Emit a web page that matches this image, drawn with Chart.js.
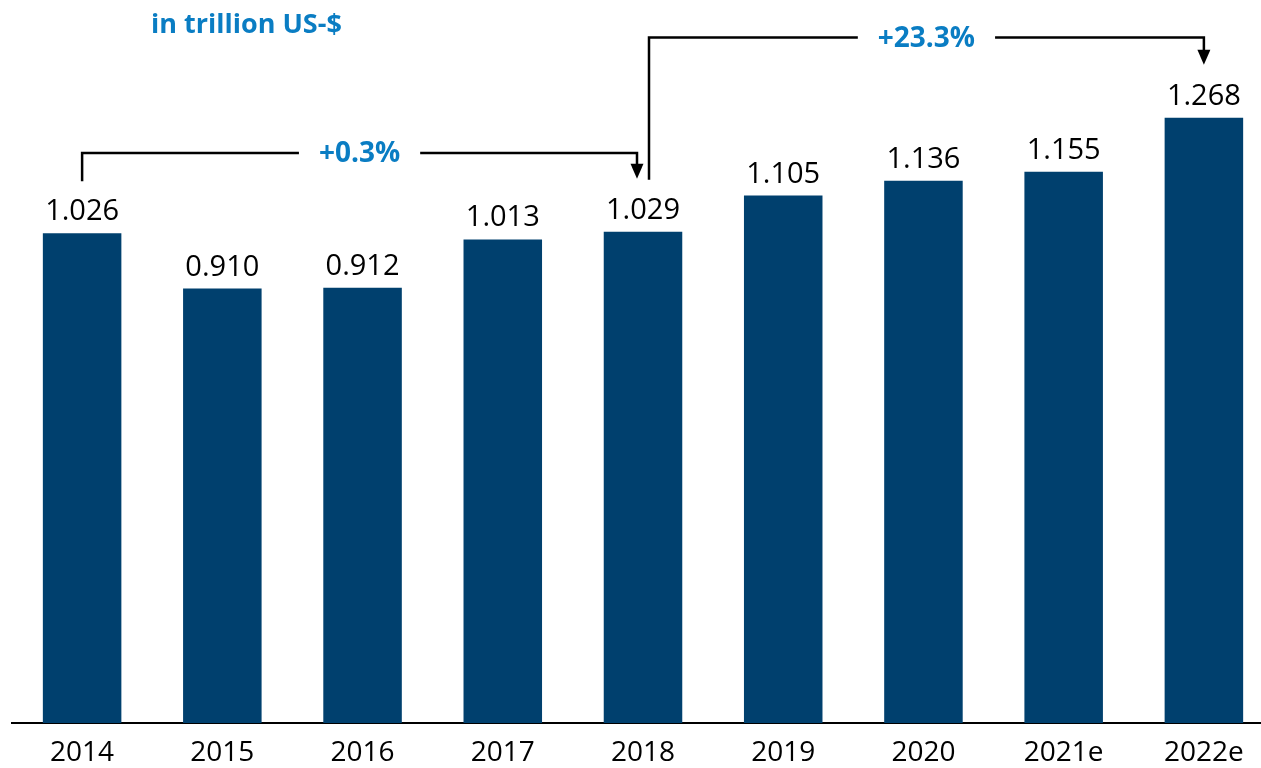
<!DOCTYPE html>
<html>
<head>
<meta charset="utf-8">
<script src="https://cdn.jsdelivr.net/npm/chart.js@4.4.0/dist/chart.umd.min.js"></script>
<style>
  html, body { margin: 0; padding: 0; background: #fff; overflow: hidden; }
  #wrap { position: relative; width: 1276px; height: 768px; }
</style>
</head>
<body>
<div id="wrap"><canvas id="c"></canvas></div>
<script>
const categories = ['2014', '2015', '2016', '2017', '2018', '2019', '2020', '2021e', '2022e'];
const values = [1.026, 0.910, 0.912, 1.013, 1.029, 1.105, 1.136, 1.155, 1.268];
const valueLabels = ['1.026', '0.910', '0.912', '1.013', '1.029', '1.105', '1.136', '1.155', '1.268'];
const unitLabel = 'in trillion US-$';
const growthFrom = [0, 4];
const growthTo = [4, 8];
const growthLabels = ['+0.3%', '+23.3%'];
const growthLevels = [1.194, 1.436];

const BAR = '#00406e';
const BLUE = '#0a7dc3';
const FONT = '"Open Sans", "Noto Sans", sans-serif';

const annotPlugin = {
  id: 'annot',
  afterDatasetsDraw(chart) {
    const ctx = chart.ctx;
    const x = chart.scales.x, y = chart.scales.y;
    const meta = chart.getDatasetMeta(0);
    ctx.save();
    // value labels
    ctx.fillStyle = '#000';
    ctx.font = '29px ' + FONT;
    ctx.textAlign = 'center';
    ctx.textBaseline = 'alphabetic';
    meta.data.forEach((bar, i) => {
      ctx.fillText(valueLabels[i], bar.x, bar.y - 13);
    });
    // growth brackets
    ctx.strokeStyle = '#000';
    ctx.fillStyle = '#000';
    ctx.lineWidth = 2.5;
    for (let k = 0; k < growthLabels.length; k++) {
      const a = growthFrom[k], b = growthTo[k];
      const xa = x.getPixelForValue(a) + (k === 1 ? 6 : 0);
      const xb = x.getPixelForValue(b) - (k === 0 ? 6 : 0);
      const ya = meta.data[a].y - 52;
      const yb = meta.data[b].y - 53;
      const yl = y.getPixelForValue(growthLevels[k]);
      const xm = (xa + xb) / 2;
      ctx.font = 'bold 28px ' + FONT;
      const tw = ctx.measureText(growthLabels[k]).width;
      const gap = tw / 2 + 20;
      ctx.beginPath();
      ctx.moveTo(xa, ya);
      ctx.lineTo(xa, yl);
      ctx.lineTo(xm - gap, yl);
      ctx.moveTo(xm + gap, yl);
      ctx.lineTo(xb, yl);
      ctx.lineTo(xb, yb - 14);
      ctx.stroke();
      ctx.beginPath();
      ctx.moveTo(xb - 6.5, yb - 15);
      ctx.lineTo(xb + 6.5, yb - 15);
      ctx.lineTo(xb, yb);
      ctx.closePath();
      ctx.fill();
      ctx.fillStyle = BLUE;
      ctx.textAlign = 'center';
      ctx.textBaseline = 'middle';
      ctx.fillText(growthLabels[k], xm, yl + 1);
      ctx.fillStyle = '#000';
    }
    // unit label
    ctx.fillStyle = BLUE;
    ctx.font = 'bold 27px ' + FONT;
    ctx.textAlign = 'left';
    ctx.textBaseline = 'alphabetic';
    ctx.fillText(unitLabel, 151, 33);
    ctx.restore();
  }
};

new Chart(document.getElementById('c'), {
  type: 'bar',
  data: {
    labels: categories,
    datasets: [{
      data: values,
      backgroundColor: BAR,
      borderWidth: 0,
      categoryPercentage: 1,
      barPercentage: 0.56
    }]
  },
  options: {
    responsive: true,
    maintainAspectRatio: false,
    animation: false,
    layout: { padding: { left: 12, right: 2, top: 7, bottom: -14.5 } },
    plugins: { legend: { display: false }, tooltip: { enabled: false }, title: { display: false } },
    scales: {
      x: {
        grid: { display: false, drawTicks: false },
        border: { display: true, color: '#000', width: 2 },
        ticks: { color: '#000', font: { family: FONT, size: 28 }, padding: 13, maxRotation: 0, autoSkip: false }
      },
      y: {
        display: false,
        min: 0,
        max: 1.5
      }
    }
  },
  plugins: [annotPlugin]
});
</script>
</body>
</html>
